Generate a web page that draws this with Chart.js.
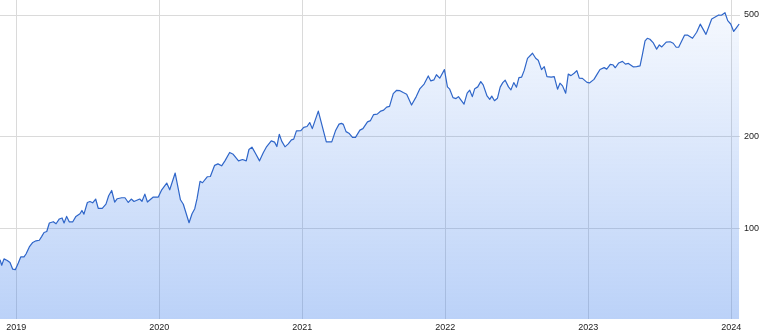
<!DOCTYPE html>
<html><head><meta charset="utf-8">
<script src="https://cdn.jsdelivr.net/npm/chart.js@4/dist/chart.umd.min.js"></script>
<style>html,body{margin:0;padding:0;background:#fff;}canvas{display:block;}</style>
</head><body>
<canvas id="c" width="768" height="334"></canvas>
<script>
const dates = [
2018.886,2018.898,2018.914,2018.937,2018.956,2018.975,2018.993,2019.014,2019.031,2019.054,
2019.068,2019.091,2019.115,2019.138,2019.161,2019.178,2019.194,2019.213,2019.231,2019.259,
2019.278,2019.301,2019.320,2019.334,2019.352,2019.371,2019.394,2019.417,2019.445,2019.459,
2019.473,2019.497,2019.515,2019.534,2019.555,2019.573,2019.601,2019.627,2019.646,2019.667,
2019.688,2019.706,2019.737,2019.760,2019.783,2019.804,2019.823,2019.863,2019.879,2019.899,
2019.917,2019.958,2019.993,2020.017,2020.052,2020.073,2020.111,2020.148,2020.168,2020.208,
2020.229,2020.248,2020.264,2020.285,2020.302,2020.335,2020.357,2020.387,2020.410,2020.436,
2020.459,2020.492,2020.517,2020.554,2020.582,2020.608,2020.627,2020.648,2020.674,2020.701,
2020.727,2020.751,2020.783,2020.806,2020.822,2020.839,2020.856,2020.879,2020.902,2020.924,
2020.940,2020.959,2020.990,2021.010,2021.033,2021.052,2021.070,2021.112,2021.168,2021.206,
2021.232,2021.257,2021.274,2021.287,2021.306,2021.329,2021.351,2021.372,2021.403,2021.424,
2021.456,2021.477,2021.499,2021.524,2021.549,2021.569,2021.590,2021.610,2021.636,2021.660,
2021.683,2021.706,2021.730,2021.764,2021.797,2021.823,2021.852,2021.881,2021.899,2021.920,
2021.938,2021.961,2021.994,2022.015,2022.031,2022.054,2022.075,2022.092,2022.131,2022.153,
2022.171,2022.189,2022.206,2022.227,2022.248,2022.265,2022.292,2022.311,2022.325,2022.344,
2022.365,2022.384,2022.402,2022.419,2022.442,2022.459,2022.479,2022.498,2022.515,2022.534,
2022.552,2022.575,2022.610,2022.632,2022.650,2022.673,2022.692,2022.711,2022.741,2022.762,
2022.785,2022.802,2022.820,2022.842,2022.860,2022.879,2022.901,2022.920,2022.937,2022.959,
2022.991,2023.008,2023.040,2023.059,2023.082,2023.111,2023.129,2023.154,2023.171,2023.189,
2023.213,2023.239,2023.260,2023.281,2023.316,2023.338,2023.362,2023.378,2023.397,2023.413,
2023.431,2023.455,2023.478,2023.497,2023.514,2023.545,2023.573,2023.594,2023.615,2023.632,
2023.673,2023.696,2023.729,2023.758,2023.783,2023.823,2023.863,2023.912,2023.931,2023.956,
2023.975,2023.996,2024.017,2024.038,2024.055
];
const prices = [
78.7,75.5,79.2,78.3,77.1,73.3,73.0,76.8,80.4,80.4,
82.2,86.7,89.7,90.8,91.2,93.9,96.7,97.4,103.9,104.9,
103.3,107.1,107.9,103.9,109.2,104.7,104.7,109.2,111.4,114.2,
111.1,121.3,122.2,121.0,124.5,116.1,116.1,119.8,127.6,132.8,
121.7,124.8,125.7,125.7,121.3,124.5,122.2,124.5,122.4,129.2,
121.7,126.4,126.4,133.5,140.5,133.5,151.5,123.8,119.7,104.1,
111.4,115.7,124.8,142.4,140.8,147.3,147.6,160.6,162.4,160.0,
166.1,177.0,174.6,166.1,167.8,166.1,181.0,184.3,175.2,166.1,
176.6,185.1,193.2,191.4,185.1,203.0,192.8,184.7,188.9,194.7,
195.7,208.4,208.7,214.0,215.3,221.8,211.9,241.8,191.8,191.8,
208.4,219.3,220.5,218.8,207.2,204.2,198.4,198.4,209.5,211.9,
223.0,225.2,235.7,236.4,242.0,243.6,249.2,250.7,276.2,283.1,
282.3,278.3,274.9,253.2,269.9,286.8,296.7,315.6,303.9,306.2,
318.4,310.2,330.9,290.5,285.5,267.9,265.9,269.9,254.9,277.0,
283.4,269.9,286.6,290.5,302.3,294.9,271.3,264.3,270.9,261.7,
266.7,290.0,300.0,305.5,290.5,284.0,300.0,289.8,311.6,312.8,
329.0,360.2,374.6,360.7,355.3,330.9,338.5,313.9,312.8,313.9,
285.5,298.7,292.7,277.0,319.9,316.3,322.1,328.5,310.4,309.7,
300.5,299.3,307.4,318.0,331.4,336.0,332.2,344.2,343.4,335.7,
348.1,352.1,345.0,346.8,337.8,338.5,340.3,369.8,411.0,419.4,
416.3,404.8,386.4,398.8,392.8,407.3,408.5,403.9,391.9,391.9,
429.4,429.4,419.4,438.9,466.6,432.0,485.2,500.1,499.0,508.8,
479.1,467.2,441.6,455.7,467.2
];
const yearTicks = [2019, 2020, 2021, 2022, 2023, 2024];
const priceTicks = [100, 200, 500];
const xRange = [2018.886, 2024.061];
const yRange = [50.3, 560];

const points = dates.map((d, i) => ({ x: d, y: prices[i] }));
const tickFont = { family: "'Liberation Sans', Arial, sans-serif", size: 9 };

new Chart(document.getElementById('c'), {
  type: 'line',
  data: {
    datasets: [{
      data: points,
      borderColor: '#2f66c9',
      borderWidth: 1.2,
      borderJoinStyle: 'round',
      pointRadius: 0,
      tension: 0,
      fill: 'start',
      backgroundColor: (ctx) => {
        const ca = ctx.chart.chartArea;
        if (!ca) return 'rgba(60,125,235,0.2)';
        const g = ctx.chart.ctx.createLinearGradient(0, ca.top, 0, ca.bottom);
        g.addColorStop(0, 'rgba(60,125,235,0.04)');
        g.addColorStop(1, 'rgba(60,125,235,0.35)');
        return g;
      }
    }]
  },
  options: {
    responsive: false,
    animation: false,
    devicePixelRatio: 1,
    layout: { padding: 0 },
    plugins: { legend: { display: false }, tooltip: { enabled: false } },
    scales: {
      x: {
        type: 'linear',
        min: xRange[0],
        max: xRange[1],
        afterBuildTicks: (s) => { s.ticks = yearTicks.map(v => ({ value: v })); },
        afterFit: (s) => { s.height = 15; s.paddingLeft = 0; s.paddingRight = 0; },
        grid: { color: '#dadada', lineWidth: 1, drawTicks: false },
        border: { display: false },
        ticks: { font: tickFont, color: '#222', padding: 3, maxRotation: 0, autoSkip: false, callback: (v) => String(v) }
      },
      y: {
        type: 'logarithmic',
        position: 'right',
        min: yRange[0],
        max: yRange[1],
        afterBuildTicks: (s) => { s.ticks = priceTicks.map(v => ({ value: v })); },
        afterFit: (s) => { s.width = 28; s.paddingTop = 0; s.paddingBottom = 0; },
        grid: { color: '#dadada', lineWidth: 1, drawTicks: false },
        border: { display: false },
        ticks: { font: tickFont, color: '#222', padding: 4, autoSkip: false, callback: (v) => String(v) }
      }
    }
  }
});
</script>
</body></html>
